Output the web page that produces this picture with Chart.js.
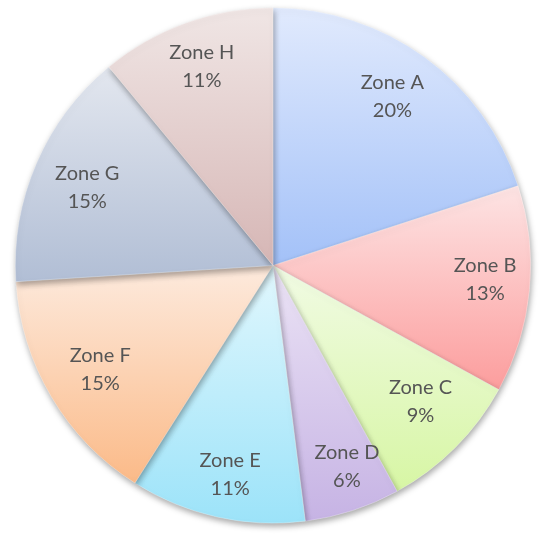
<!DOCTYPE html>
<html>
<head>
<meta charset="utf-8">
<script src="https://cdn.jsdelivr.net/npm/chart.js@4/dist/chart.umd.min.js"></script>
<style>
  html, body { margin: 0; padding: 0; background: #fff; }
  #wrap { width: 541px; height: 546px; }
</style>
</head>
<body>
<div id="wrap"><canvas id="pie"></canvas></div>
<script>
// zone shares (percent)
const zones = ["Zone A", "Zone B", "Zone C", "Zone D", "Zone E", "Zone F", "Zone G", "Zone H"];
const shares = [20, 13, 9, 6, 11, 15, 15, 11];

// light (top) / dark (bottom) colour of each slice
const topColors = ["#e1eafd", "#fde4e4", "#f1fbe4", "#ebe3f5", "#e1f7fd", "#fdeadd", "#e3e7ef", "#f0e6e5"];
const bottomColors = ["#a3c1f8", "#fc9d9d", "#d7f6a4", "#c6b3e4", "#9ce3f9", "#fbba88", "#b1bed5", "#d6b6b5"];

// small label nudges (px) so labels sit where Excel put them
const labelNudge = [[-4, 1], [3, -6], [-1, -12], [9, 1], [3, 4], [8, -3], [7, 5], [0, -1]];

// vertical gradient spanning each slice's own height
function sliceFill(ctx) {
  const chart = ctx.chart;
  const area = chart.chartArea;
  const i = ctx.dataIndex;
  if (!area) return bottomColors[i];
  const cx = (area.left + area.right) / 2;
  const cy = (area.top + area.bottom) / 2;
  const r = Math.min(area.right - area.left, area.bottom - area.top) / 2;
  const total = shares.reduce((a, b) => a + b, 0);
  let before = 0;
  for (let k = 0; k < i; k++) before += shares[k];
  const a0 = -Math.PI / 2 + before / total * Math.PI * 2;
  const a1 = a0 + shares[i] / total * Math.PI * 2;
  let ys = [cy, cy + r * Math.sin(a0), cy + r * Math.sin(a1)];
  // top / bottom of the circle inside the slice?
  [-Math.PI / 2, Math.PI / 2, Math.PI * 1.5].forEach(a => {
    if (a >= a0 && a <= a1) ys.push(cy + r * Math.sin(a));
  });
  const g = chart.ctx.createLinearGradient(0, Math.min(...ys), 0, Math.max(...ys));
  g.addColorStop(0, topColors[i]);
  g.addColorStop(1, bottomColors[i]);
  return g;
}

// soft shadow under the pie
const pieShadow = {
  id: "pieShadow",
  beforeDatasetsDraw(chart) {
    const c = chart.ctx;
    c.save();
    c.shadowColor = "rgba(0,0,0,0.35)";
    c.shadowBlur = 6;
    c.shadowOffsetX = 1;
    c.shadowOffsetY = 3;
  },
  afterDatasetsDraw(chart) {
    chart.ctx.restore();
  }
};

// two-line labels inside the slices
const sliceLabels = {
  id: "sliceLabels",
  afterDraw(chart) {
    const c = chart.ctx;
    const meta = chart.getDatasetMeta(0);
    c.save();
    c.font = "20px Lato";
    c.fillStyle = "#555555";
    c.textAlign = "center";
    c.textBaseline = "middle";
    meta.data.forEach((arc, i) => {
      const p = arc.getProps(["x", "y", "startAngle", "endAngle", "outerRadius"], true);
      const mid = (p.startAngle + p.endAngle) / 2;
      const d = p.outerRadius * 0.815;
      const x = p.x + Math.cos(mid) * d + labelNudge[i][0];
      const y = p.y + Math.sin(mid) * d + labelNudge[i][1];
      c.fillText(zones[i], x, y - 14);
      c.fillText(shares[i] + "%", x, y + 14);
    });
    c.restore();
  }
};

new Chart(document.getElementById("pie"), {
  type: "pie",
  data: {
    labels: zones,
    datasets: [{
      data: shares,
      backgroundColor: sliceFill,
      borderColor: "rgba(255,255,255,0.5)",
      borderWidth: 0.6
    }]
  },
  options: {
    responsive: true,
    maintainAspectRatio: false,
    animation: false,
    layout: { padding: { left: 15, right: 10, top: 7, bottom: 22 } },
    plugins: {
      legend: { display: false },
      tooltip: { enabled: false }
    }
  },
  plugins: [pieShadow, sliceLabels]
});
</script>
</body>
</html>
